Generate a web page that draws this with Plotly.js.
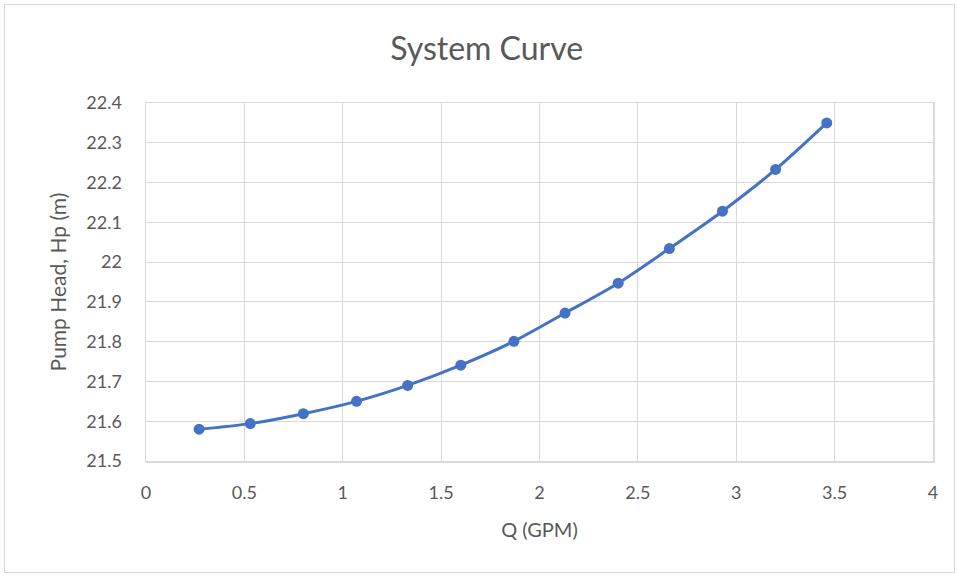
<!DOCTYPE html>
<html>
<head>
<meta charset="utf-8">
<script src="https://cdn.plot.ly/plotly-3.0.1.min.js"></script>
<style>
  html, body { margin: 0; padding: 0; background: #ffffff; }
  #wrap { position: relative; width: 958px; height: 577px; }
  #chart { width: 958px; height: 577px; }
  #frame { position: absolute; left: 4px; top: 4px; width: 951px; height: 569px;
           border: 1px solid #d9d9d9; box-sizing: border-box; pointer-events: none; }
</style>
</head>
<body>
<div id="wrap">
  <div id="chart"></div>
  <div id="frame"></div>
</div>
<script>
// Flow rate (GPM) and the corresponding required pump head (m)
const flowGPM = [0.27, 0.53, 0.80, 1.07, 1.33, 1.60, 1.87, 2.13, 2.40, 2.66, 2.93, 3.20, 3.46];
const headM   = [21.580, 21.594, 21.619, 21.650, 21.690, 21.741, 21.801, 21.872, 21.947, 22.034, 22.128, 22.233, 22.350];

const xTicks = [0, 0.5, 1, 1.5, 2, 2.5, 3, 3.5, 4];
const yTicks = [21.5, 21.6, 21.7, 21.8, 21.9, 22, 22.1, 22.2, 22.3, 22.4];

const textColor = '#595959';
const gridColor = '#d9d9d9';
const fontFamily = 'Lato, "Open Sans", "Noto Sans", sans-serif';

const trace = {
  x: flowGPM,
  y: headM,
  type: 'scatter',
  mode: 'lines+markers',
  line: { color: '#4472C4', width: 3, shape: 'spline', smoothing: 0.8 },
  marker: { color: '#4472C4', size: 11 },
  hoverinfo: 'x+y'
};

const layout = {
  width: 958,
  height: 577,
  paper_bgcolor: '#ffffff',
  plot_bgcolor: '#ffffff',
  margin: { l: 146, r: 25, t: 103, b: 116 },
  showlegend: false,
  font: { family: fontFamily, color: textColor },
  title: {
    text: 'System Curve',
    x: 0.508, xref: 'container', xanchor: 'center',
    y: 0.915, yref: 'container', yanchor: 'middle',
    font: { family: fontFamily, size: 32, color: textColor }
  },
  xaxis: {
    range: [0, 4],
    tickmode: 'array',
    tickvals: xTicks,
    ticktext: xTicks.map(String),
    showgrid: true,
    gridcolor: gridColor,
    gridwidth: 1,
    zeroline: false,
    showline: true,
    linecolor: gridColor,
    linewidth: 1.5,
    mirror: true,
    ticks: 'outside',
    ticklen: 15,
    tickcolor: 'rgba(0,0,0,0)',
    tickfont: { family: fontFamily, size: 18, color: textColor },
    title: {
      text: 'Q (GPM)',
      standoff: 21,
      font: { family: fontFamily, size: 20, color: textColor }
    }
  },
  yaxis: {
    range: [21.5, 22.4],
    tickmode: 'array',
    tickvals: yTicks,
    ticktext: yTicks.map(String),
    showgrid: true,
    gridcolor: gridColor,
    gridwidth: 1,
    zeroline: false,
    showline: true,
    linecolor: gridColor,
    linewidth: 1.5,
    mirror: true,
    ticks: 'outside',
    ticklen: 19,
    tickcolor: 'rgba(0,0,0,0)',
    tickfont: { family: fontFamily, size: 18, color: textColor },
    title: {
      text: 'Pump Head, Hp (m)',
      standoff: 14,
      font: { family: fontFamily, size: 21, color: textColor }
    }
  }
};

Plotly.newPlot('chart', [trace], layout, { displayModeBar: false, staticPlot: true });
</script>
</body>
</html>
